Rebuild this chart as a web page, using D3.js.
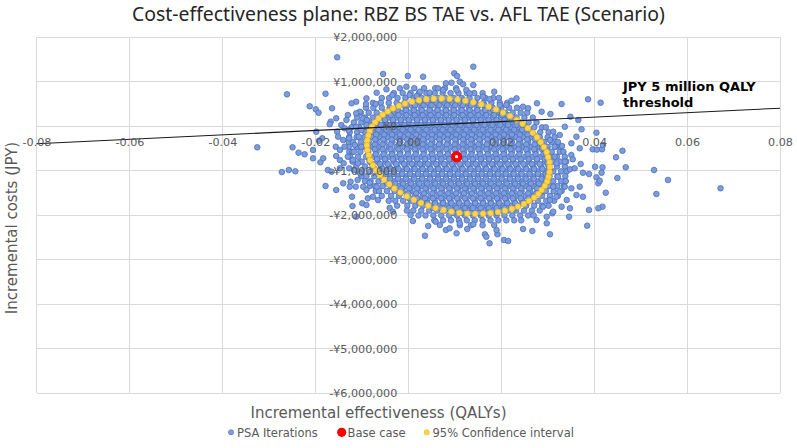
<!DOCTYPE html>
<html><head><meta charset="utf-8">
<script src="https://cdn.jsdelivr.net/npm/d3@7"></script>
<style>body{margin:0;background:#fff}svg{display:block}</style>
</head><body>
<svg id="chart" width="797" height="448"></svg>
<script>
// ---------- texts ----------
const chartTitle = "Cost-effectiveness plane: RBZ BS TAE vs. AFL TAE (Scenario)";
const xAxisTitle = "Incremental effectiveness (QALYs)";
const yAxisTitle = "Incremental costs (JPY)";
const legendLabels = ["PSA Iterations", "Base case", "95% Confidence interval"];
const thresholdLabel = ["JPY 5 million QALY", "threshold"];

// ---------- ticks ----------
const xTickValues = [-0.08, -0.06, -0.04, -0.02, 0, 0.02, 0.04, 0.06, 0.08];
const yTickValues = [2000000, 1000000, 0, -1000000, -2000000, -3000000, -4000000, -5000000, -6000000];

// ---------- threshold line (JPY 5,000,000 per QALY) ----------
const thresholdQaly = [-0.08, 0.08];
const thresholdCost = [-400000, 400000];

// ---------- base case ----------
const baseCaseQaly = [0.0104];
const baseCaseCost = [-690000];

// ---------- 95% confidence ellipse points ----------
const ciQaly = [0.0304,0.0301,0.0298,0.0292,0.0285,0.0277,0.0268,0.0257,0.0246,0.0233,0.0219,0.0204,0.0189,0.0173,0.0157,0.0140,0.0123,0.0106,0.0089,0.0072,0.0055,0.0039,0.0023,0.0008,-0.0007,-0.0020,-0.0033,-0.0044,-0.0055,-0.0064,-0.0071,-0.0078,-0.0083,-0.0086,-0.0088,-0.0089,
 -0.0088,-0.0085,-0.0082,-0.0076,-0.0069,-0.0061,-0.0052,-0.0041,-0.0030,-0.0017,-0.0003,0.0012,0.0027,0.0043,0.0059,0.0076,0.0093,0.0110,0.0127,0.0144,0.0161,0.0177,0.0193,0.0208,0.0223,0.0236,0.0249,0.0260,0.0271,0.0280,0.0287,0.0294,0.0299,0.0302,0.0304,0.0305];
const ciCost = [-811000,-698000,-586000,-473000,-362000,-254000,-149000,-48000,48000,139000,224000,301000,372000,434000,488000,532000,568000,594000,611000,618000,614000,601000,579000,546000,505000,454000,395000,328000,253000,171000,82000,-12000,-112000,-216000,-323000,-433000,
 -545000,-658000,-770000,-883000,-994000,-1102000,-1207000,-1308000,-1404000,-1495000,-1580000,-1657000,-1728000,-1790000,-1844000,-1888000,-1924000,-1950000,-1967000,-1974000,-1970000,-1957000,-1935000,-1902000,-1861000,-1810000,-1751000,-1684000,-1609000,-1527000,-1438000,-1344000,-1244000,-1140000,-1033000,-923000];

// ---------- PSA iterations: dense core, read row by row (outer layer) ----------
const psaCoreCost = [850000,740000,630000,520000,410000,300000,190000,80000,-30000,-140000,-250000,-360000,-470000,-580000,-690000,-800000,-910000,-1020000,-1130000,-1240000,-1350000,-1460000,-1570000,-1680000,-1790000,-1900000,-2010000,-2120000,-2230000];
const psaCoreQaly = [
 [0.0013,0.0034,0.0058,0.0079,0.0103],
 [-0.0031,-0.0012,0.0005,0.0023,0.0039,0.0057,0.0074,0.0091,0.0108,0.0126,0.0142,0.0160],
 [-0.0057,-0.0041,-0.0023,-0.0006,0.0012,0.0029,0.0046,0.0064,0.0080,0.0098,0.0115,0.0132,0.0149,0.0166,0.0183,0.0195],
 [-0.0076,-0.0059,-0.0042,-0.0025,-0.0008,0.0008,0.0026,0.0043,0.0060,0.0077,0.0094,0.0111,0.0128,0.0145,0.0162,0.0179,0.0197,0.0213],
 [-0.0091,-0.0075,-0.0057,-0.0040,-0.0023,-0.0006,0.0011,0.0028,0.0046,0.0063,0.0080,0.0097,0.0114,0.0131,0.0148,0.0165,0.0182,0.0200,0.0217,0.0234],
 [-0.0102,-0.0085,-0.0068,-0.0050,-0.0033,-0.0016,0.0002,0.0019,0.0036,0.0053,0.0071,0.0088,0.0105,0.0122,0.0139,0.0157,0.0174,0.0191,0.0208,0.0225,0.0242,0.0256],
 [-0.0110,-0.0093,-0.0076,-0.0059,-0.0042,-0.0025,-0.0007,0.0010,0.0027,0.0044,0.0061,0.0079,0.0096,0.0113,0.0130,0.0147,0.0164,0.0182,0.0199,0.0216,0.0233,0.0250,0.0268],
 [-0.0117,-0.0101,-0.0084,-0.0067,-0.0050,-0.0033,-0.0016,0.0001,0.0019,0.0036,0.0053,0.0070,0.0087,0.0104,0.0121,0.0139,0.0156,0.0173,0.0190,0.0207,0.0224,0.0242,0.0259,0.0276],
 [-0.0122,-0.0106,-0.0089,-0.0071,-0.0054,-0.0037,-0.0020,-0.0003,0.0014,0.0031,0.0048,0.0066,0.0083,0.0100,0.0117,0.0134,0.0151,0.0168,0.0185,0.0203,0.0220,0.0237,0.0254,0.0271,0.0288,0.0296],
 [-0.0126,-0.0110,-0.0093,-0.0076,-0.0058,-0.0041,-0.0024,-0.0007,0.0010,0.0027,0.0044,0.0062,0.0079,0.0096,0.0113,0.0130,0.0147,0.0164,0.0182,0.0199,0.0216,0.0233,0.0250,0.0267,0.0284,0.0302],
 [-0.0127,-0.0111,-0.0094,-0.0077,-0.0060,-0.0043,-0.0025,-0.0008,0.0009,0.0026,0.0043,0.0060,0.0077,0.0095,0.0112,0.0129,0.0146,0.0163,0.0180,0.0197,0.0214,0.0232,0.0249,0.0266,0.0283,0.0300,0.0315],
 [-0.0128,-0.0119,-0.0102,-0.0085,-0.0068,-0.0051,-0.0034,-0.0017,0.0001,0.0018,0.0035,0.0052,0.0069,0.0086,0.0103,0.0121,0.0138,0.0155,0.0172,0.0189,0.0206,0.0223,0.0241,0.0258,0.0275,0.0292,0.0309,0.0322],
 [-0.0128,-0.0111,-0.0094,-0.0077,-0.0060,-0.0042,-0.0025,-0.0008,0.0009,0.0026,0.0043,0.0060,0.0078,0.0095,0.0112,0.0129,0.0146,0.0163,0.0180,0.0198,0.0215,0.0232,0.0249,0.0266,0.0283,0.0300,0.0317,0.0328],
 [-0.0127,-0.0120,-0.0103,-0.0086,-0.0068,-0.0051,-0.0034,-0.0017,0.0000,0.0017,0.0034,0.0052,0.0069,0.0086,0.0103,0.0120,0.0137,0.0154,0.0172,0.0189,0.0206,0.0223,0.0240,0.0257,0.0274,0.0292,0.0309,0.0326,0.0334],
 [-0.0125,-0.0108,-0.0091,-0.0074,-0.0057,-0.0040,-0.0023,-0.0005,0.0012,0.0029,0.0046,0.0063,0.0080,0.0097,0.0114,0.0132,0.0149,0.0166,0.0183,0.0200,0.0217,0.0235,0.0252,0.0269,0.0286,0.0303,0.0320,0.0337],
 [-0.0120,-0.0100,-0.0083,-0.0066,-0.0049,-0.0031,-0.0014,0.0003,0.0020,0.0037,0.0054,0.0071,0.0089,0.0106,0.0123,0.0140,0.0157,0.0174,0.0191,0.0209,0.0226,0.0243,0.0260,0.0277,0.0294,0.0311,0.0328,0.0340],
 [-0.0112,-0.0093,-0.0076,-0.0058,-0.0041,-0.0024,-0.0006,0.0012,0.0029,0.0046,0.0063,0.0080,0.0097,0.0114,0.0132,0.0149,0.0166,0.0183,0.0200,0.0217,0.0234,0.0252,0.0269,0.0286,0.0303,0.0320,0.0337],
 [-0.0109,-0.0099,-0.0082,-0.0065,-0.0048,-0.0031,-0.0014,0.0003,0.0021,0.0038,0.0055,0.0072,0.0089,0.0106,0.0123,0.0141,0.0158,0.0175,0.0192,0.0209,0.0226,0.0243,0.0261,0.0278,0.0295,0.0312,0.0329,0.0341],
 [-0.0101,-0.0090,-0.0073,-0.0056,-0.0039,-0.0022,-0.0005,0.0012,0.0029,0.0047,0.0064,0.0081,0.0098,0.0115,0.0132,0.0149,0.0167,0.0184,0.0201,0.0218,0.0235,0.0252,0.0269,0.0287,0.0304,0.0321,0.0338],
 [-0.0093,-0.0081,-0.0064,-0.0047,-0.0030,-0.0013,0.0004,0.0021,0.0038,0.0055,0.0073,0.0090,0.0107,0.0124,0.0141,0.0158,0.0175,0.0192,0.0210,0.0227,0.0244,0.0261,0.0278,0.0295,0.0312,0.0329,0.0339],
 [-0.0083,-0.0072,-0.0055,-0.0038,-0.0021,-0.0004,0.0013,0.0030,0.0047,0.0064,0.0082,0.0099,0.0116,0.0133,0.0150,0.0167,0.0184,0.0201,0.0219,0.0236,0.0253,0.0270,0.0287,0.0304,0.0321,0.0335],
 [-0.0070,-0.0063,-0.0046,-0.0029,-0.0012,0.0005,0.0022,0.0039,0.0056,0.0073,0.0090,0.0108,0.0125,0.0142,0.0159,0.0176,0.0193,0.0210,0.0227,0.0244,0.0262,0.0279,0.0296,0.0313,0.0330],
 [-0.0057,-0.0037,-0.0020,-0.0003,0.0014,0.0031,0.0048,0.0065,0.0082,0.0099,0.0117,0.0134,0.0151,0.0168,0.0185,0.0202,0.0219,0.0236,0.0253,0.0270,0.0288,0.0305,0.0322],
 [-0.0042,-0.0028,-0.0011,0.0006,0.0023,0.0040,0.0057,0.0074,0.0091,0.0108,0.0125,0.0143,0.0160,0.0177,0.0194,0.0211,0.0228,0.0245,0.0262,0.0279,0.0297,0.0314],
 [-0.0024,-0.0002,0.0015,0.0032,0.0049,0.0066,0.0083,0.0100,0.0117,0.0134,0.0151,0.0169,0.0186,0.0203,0.0220,0.0237,0.0254,0.0271,0.0288,0.0302],
 [-0.0003,0.0011,0.0028,0.0045,0.0062,0.0079,0.0096,0.0113,0.0130,0.0147,0.0164,0.0181,0.0198,0.0215,0.0232,0.0249,0.0266,0.0283],
 [0.0022,0.0037,0.0054,0.0071,0.0088,0.0105,0.0122,0.0139,0.0156,0.0173,0.0190,0.0207,0.0224,0.0241,0.0258,0.0270],
 [0.0056,0.0075,0.0092,0.0109,0.0126,0.0143,0.0160,0.0177,0.0194,0.0211,0.0228,0.0243],
 [0.0111,0.0135,0.0160,0.0185]
];

// ---------- PSA iterations: inner layer (inside the 95% ellipse, where iterations pile up) ----------
const psaInnerCost = [575000,465000,355000,245000,135000,25000,-85000,-195000,-305000,-415000,-525000,-635000,-745000,-855000,-965000,-1075000,-1185000,-1295000,-1405000,-1515000,-1625000,-1735000,-1845000,-1955000];
const psaInnerQaly = [
 [0.0018,0.0036,0.0052,0.0070,0.0087,0.0104,0.0120],
 [-0.0019,-0.0002,0.0015,0.0033,0.0050,0.0067,0.0084,0.0101,0.0118,0.0135,0.0152,0.0164],
 [-0.0040,-0.0023,-0.0005,0.0012,0.0029,0.0046,0.0063,0.0081,0.0098,0.0115,0.0132,0.0149,0.0166,0.0183,0.0193],
 [-0.0055,-0.0038,-0.0021,-0.0004,0.0014,0.0031,0.0048,0.0065,0.0082,0.0099,0.0117,0.0134,0.0151,0.0168,0.0185,0.0202,0.0214],
 [-0.0067,-0.0050,-0.0033,-0.0016,0.0001,0.0019,0.0036,0.0053,0.0070,0.0087,0.0104,0.0122,0.0139,0.0156,0.0173,0.0190,0.0207,0.0224,0.0232],
 [-0.0076,-0.0059,-0.0042,-0.0025,-0.0008,0.0009,0.0027,0.0044,0.0061,0.0078,0.0095,0.0112,0.0130,0.0147,0.0164,0.0181,0.0198,0.0215,0.0233,0.0246],
 [-0.0081,-0.0064,-0.0047,-0.0029,-0.0012,0.0005,0.0022,0.0039,0.0057,0.0074,0.0091,0.0108,0.0125,0.0142,0.0160,0.0177,0.0194,0.0211,0.0228,0.0245,0.0259],
 [-0.0086,-0.0069,-0.0052,-0.0035,-0.0018,0.0000,0.0017,0.0034,0.0051,0.0068,0.0085,0.0103,0.0120,0.0137,0.0154,0.0171,0.0188,0.0206,0.0223,0.0240,0.0257,0.0270],
 [-0.0088,-0.0071,-0.0054,-0.0036,-0.0019,-0.0002,0.0015,0.0032,0.0050,0.0067,0.0084,0.0101,0.0118,0.0135,0.0153,0.0170,0.0187,0.0204,0.0221,0.0238,0.0256,0.0273],
 [-0.0089,-0.0072,-0.0055,-0.0038,-0.0020,-0.0003,0.0014,0.0031,0.0048,0.0066,0.0083,0.0100,0.0117,0.0134,0.0151,0.0169,0.0186,0.0203,0.0220,0.0237,0.0254,0.0272,0.0287],
 [-0.0089,-0.0072,-0.0055,-0.0038,-0.0021,-0.0003,0.0014,0.0031,0.0048,0.0065,0.0082,0.0100,0.0117,0.0134,0.0151,0.0168,0.0185,0.0203,0.0220,0.0237,0.0254,0.0271,0.0288,0.0293],
 [-0.0087,-0.0070,-0.0053,-0.0035,-0.0018,-0.0001,0.0016,0.0033,0.0051,0.0068,0.0085,0.0102,0.0119,0.0136,0.0154,0.0171,0.0188,0.0205,0.0222,0.0239,0.0257,0.0274,0.0291,0.0297],
 [-0.0084,-0.0067,-0.0050,-0.0033,-0.0015,0.0002,0.0019,0.0036,0.0053,0.0071,0.0088,0.0105,0.0122,0.0139,0.0156,0.0174,0.0191,0.0208,0.0225,0.0242,0.0259,0.0277,0.0294,0.0300],
 [-0.0078,-0.0061,-0.0044,-0.0026,-0.0009,0.0008,0.0025,0.0042,0.0060,0.0077,0.0094,0.0111,0.0128,0.0145,0.0163,0.0180,0.0197,0.0214,0.0231,0.0248,0.0266,0.0283,0.0300],
 [-0.0072,-0.0055,-0.0038,-0.0021,-0.0003,0.0014,0.0031,0.0048,0.0065,0.0083,0.0100,0.0117,0.0134,0.0151,0.0168,0.0186,0.0203,0.0220,0.0237,0.0254,0.0271,0.0289,0.0302],
 [-0.0065,-0.0048,-0.0031,-0.0013,0.0004,0.0021,0.0038,0.0055,0.0073,0.0090,0.0107,0.0124,0.0141,0.0158,0.0176,0.0193,0.0210,0.0227,0.0244,0.0261,0.0279,0.0296,0.0301],
 [-0.0056,-0.0039,-0.0022,-0.0005,0.0013,0.0030,0.0047,0.0064,0.0081,0.0098,0.0116,0.0133,0.0150,0.0167,0.0184,0.0201,0.0219,0.0236,0.0253,0.0270,0.0287,0.0298],
 [-0.0045,-0.0028,-0.0011,0.0006,0.0024,0.0041,0.0058,0.0075,0.0092,0.0109,0.0127,0.0144,0.0161,0.0178,0.0195,0.0212,0.0230,0.0247,0.0264,0.0281,0.0295],
 [-0.0032,-0.0015,0.0002,0.0019,0.0037,0.0054,0.0071,0.0088,0.0105,0.0122,0.0140,0.0157,0.0174,0.0191,0.0208,0.0225,0.0243,0.0260,0.0277,0.0288],
 [-0.0017,0.0000,0.0017,0.0034,0.0052,0.0069,0.0086,0.0103,0.0120,0.0137,0.0155,0.0172,0.0189,0.0206,0.0223,0.0240,0.0258,0.0275,0.0279],
 [0.0002,0.0019,0.0036,0.0053,0.0071,0.0088,0.0105,0.0122,0.0139,0.0156,0.0174,0.0191,0.0208,0.0225,0.0242,0.0259,0.0268],
 [0.0024,0.0041,0.0058,0.0075,0.0093,0.0110,0.0127,0.0144,0.0161,0.0178,0.0196,0.0213,0.0230,0.0247,0.0252],
 [0.0053,0.0070,0.0087,0.0104,0.0122,0.0139,0.0156,0.0173,0.0190,0.0207,0.0229],
 [0.0097,0.0115,0.0134,0.0152,0.0171,0.0191]
];

// ---------- PSA iterations: scattered points around the core [QALY, JPY] ----------
const psaScattered = [
 [-0.0153,1544000],[-0.0261,712000],[-0.0178,726000],[-0.0212,443000],[-0.0199,375000],[-0.0193,299000],[-0.0164,398000],[-0.0155,173000],[-0.0167,97000],[-0.0169,40000],
 [-0.0198,-128000],[-0.0325,-479000],[-0.0249,-479000],[-0.0236,-600000],[-0.0223,-636000],[-0.0205,-539000],[-0.0192,-330000],[-0.0185,-276000],[-0.0272,-1034000],[-0.0257,-989000],
 [-0.0243,-1018000],[-0.0189,-816000],[-0.0183,-726000],[-0.0178,-1348000],[-0.0173,-989000],[-0.0165,-1027000],[-0.0120,-1798000],[-0.0121,-1589000],[-0.0099,-1737000],[-0.0090,-1775000],
 [-0.0126,-1364000],[-0.0124,-1252000],[-0.0112,546000],[-0.0090,622000],[-0.0091,494000],[-0.0068,748000],[-0.0070,494000],[-0.0097,173000],[-0.0089,135000],[-0.0104,321000],
 [-0.0130,247000],[-0.0133,135000],[-0.0144,22000],[-0.0137,-52000],[-0.0128,-90000],[-0.0153,-128000],[-0.0151,-240000],[-0.0140,-315000],[-0.0127,-276000],[-0.0156,-465000],
 [-0.0147,-539000],[-0.0137,-465000],[-0.0155,-674000],[-0.0147,-764000],[-0.0139,-838000],[-0.0130,-690000],[-0.0117,-578000],[-0.0115,-427000],[-0.0106,-240000],[-0.0101,-465000],
 [-0.0108,-838000],[-0.0119,-764000],[-0.0127,-951000],[-0.0117,-989000],[-0.0103,-1063000],[-0.0109,-1213000],[-0.0113,-1364000],[-0.0097,-1364000],[-0.0090,-1438000],[-0.0083,-1274000],
 [-0.0068,-1364000],[-0.0087,-1625000],[-0.0076,-1589000],[-0.0065,-1663000],[-0.0112,-16000],[-0.0101,-90000],[-0.0090,22000],[-0.0122,510000],[-0.0112,285000],[-0.0205,-726000],
 [-0.0147,-951000],[-0.0140,-1288000],[-0.0155,-1438000],[-0.0112,-2038000],[-0.0040,-1840000],[-0.0033,-1926000],
 [0.0277,510000],[0.0330,494000],[0.0387,600000],[0.0414,524000],[0.0306,270000],[0.0349,209000],[0.0366,135000],[0.0287,321000],[0.0337,-16000],[0.0373,-74000],
 [0.0405,-151000],[0.0362,-240000],[0.0326,-202000],[0.0351,-389000],[0.0331,-449000],[0.0369,-501000],[0.0397,-524000],[0.0406,-530000],[0.0417,-524000],[0.0419,-427000],
 [0.0461,-555000],[0.0447,-703000],[0.0351,-652000],[0.0354,-748000],[0.0315,-690000],[0.0337,-802000],[0.0371,-854000],[0.0402,-915000],[0.0418,-928000],[0.0468,-928000],
 [0.0529,-989000],[0.0348,-973000],[0.0358,-951000],[0.0376,-1049000],[0.0389,-1079000],[0.0416,-1049000],[0.0405,-1153000],[0.0450,-1169000],[0.0559,-1213000],[0.0672,-1400000],
 [0.0534,-1528000],[0.0425,-1499000],[0.0409,-1288000],[0.0412,-1229000],[0.0337,-1364000],[0.0351,-1400000],[0.0369,-1364000],[0.0376,-1589000],[0.0362,-1551000],[0.0341,-1663000],
 [0.0319,-1589000],[0.0418,-1813000],[0.0409,-1849000],[0.0389,-1888000],[0.0348,-1849000],[0.0346,-2038000],[0.0310,-1962000],[0.0385,-2240000],[0.0298,-2187000],[0.0276,-2112000],
 [0.0312,-128000],[0.0305,-315000],[0.0315,-465000],[0.0298,-539000],[0.0319,-838000],[0.0305,-989000],[0.0322,-1139000],[0.0312,-1364000],[0.0326,-1476000],[0.0305,-1663000],
 [0.0290,-1813000],[0.0283,-1512000],[0.0330,-1813000],
 [0.0140,1333000],[-0.0054,1169000],[-0.0001,1124000],[0.0032,1108000],[0.0099,1184000],[0.0105,1124000],[0.0111,996000],[0.0118,937000],[0.0081,960000],[0.0093,973000],
 [0.0140,921000],[0.0185,771000],[-0.0047,825000],[-0.0018,847000],[-0.0004,883000],[-0.0034,697000],[0.0025,771000],[0.0046,748000],[0.0064,847000],[0.0222,569000],
 [0.0233,622000],[0.0003,697000],[0.0018,674000],[0.0075,809000],[0.0104,809000],[0.0125,809000],[0.0132,735000],[0.0161,658000],[0.0175,600000],[0.0197,472000],
 [0.0211,472000],[0.0247,434000],[0.0258,398000],
 [0.0036,-2465000],[0.0043,-2247000],[0.0081,-2337000],[0.0089,-2299000],[0.0104,-2411000],[0.0127,-2315000],[0.0165,-2434000],[0.0168,-2488000],[0.0175,-2636000],[0.0192,-2434000],
 [0.0190,-2337000],[0.0206,-2562000],[0.0215,-2584000],[0.0247,-2315000],[0.0267,-2360000],[0.0305,-2434000],[0.0005,-2000000],[0.0010,-2135000],[0.0059,-2151000],[0.0068,-2225000],
 [0.0111,-2187000],[0.0140,-2209000],[0.0312,-1926000],[0.0298,-2038000]
];

// ---------- build ----------
const psaPoints = [];
psaCoreCost.forEach((c, i) => psaCoreQaly[i].forEach(q => psaPoints.push({q, c})));
psaInnerCost.forEach((c, i) => psaInnerQaly[i].forEach(q => psaPoints.push({q, c})));
psaScattered.forEach(([q, c]) => psaPoints.push({q, c}));
const ciPoints = ciQaly.map((q, i) => ({q, c: ciCost[i]}));
const basePoints = baseCaseQaly.map((q, i) => ({q, c: baseCaseCost[i]}));

const svg = d3.select("#chart");
const W = 797, H = 448;
const plot = {left: 36.5, right: 780, top: 37, bottom: 393};
const x = d3.scaleLinear().domain([-0.08, 0.08]).range([plot.left, plot.right]);
const y = d3.scaleLinear().domain([-6000000, 2000000]).range([plot.bottom, plot.top]);

const loc = d3.formatLocale({decimal: ".", thousands: ",", grouping: [3], currency: ["¥", ""], minus: "-"});
const fmtX = loc.format(".2f");
const fmtY = loc.format("$,.0f");

const FONT = "'DejaVu Sans', Verdana, sans-serif";
const gridColor = "#d9d9d9";
const textColor = "#595959";
const psaFill = "#7c9cdb", psaStroke = "#4a6fbf";
const ciFill = "#ffd54f", ciStroke = "#f0b400";

// gridlines
const grid = svg.append("g").attr("shape-rendering", "crispEdges");
grid.selectAll("line.v").data(xTickValues).join("line")
  .attr("x1", d => x(d)).attr("x2", d => x(d)).attr("y1", plot.top).attr("y2", plot.bottom)
  .attr("stroke", gridColor).attr("stroke-width", 1);
grid.selectAll("line.h").data(yTickValues).join("line")
  .attr("x1", plot.left).attr("x2", plot.right).attr("y1", d => y(d)).attr("y2", d => y(d))
  .attr("stroke", gridColor).attr("stroke-width", 1);

// PSA iterations
svg.append("g").selectAll("circle").data(psaPoints).join("circle")
  .attr("cx", d => x(d.q)).attr("cy", d => y(d.c)).attr("r", 2.8)
  .attr("fill", psaFill).attr("stroke", psaStroke).attr("stroke-width", 0.8);

// CI ellipse
svg.append("g").selectAll("circle").data(ciPoints).join("circle")
  .attr("cx", d => x(d.q)).attr("cy", d => y(d.c)).attr("r", 2.9)
  .attr("fill", ciFill).attr("stroke", ciStroke).attr("stroke-width", 0.6);

// threshold line
svg.append("line")
  .attr("x1", x(thresholdQaly[0])).attr("y1", y(thresholdCost[0]))
  .attr("x2", x(thresholdQaly[1])).attr("y2", y(thresholdCost[1]))
  .attr("stroke", "#1a1a1a").attr("stroke-width", 1.1);

// base case
const bg = svg.append("g");
bg.selectAll("circle.b").data(basePoints).join("circle")
  .attr("cx", d => x(d.q)).attr("cy", d => y(d.c)).attr("r", 5.6).attr("fill", "#ff0000");
bg.selectAll("circle.w").data(basePoints).join("circle")
  .attr("cx", d => x(d.q)).attr("cy", d => y(d.c)).attr("r", 1.6).attr("fill", "#ffffff");

// axes through origin
const xAxis = svg.append("g").attr("transform", `translate(0,${y(0)})`)
  .call(d3.axisBottom(x).tickValues(xTickValues).tickFormat(fmtX).tickSize(0).tickPadding(12));
const yAxis = svg.append("g").attr("transform", `translate(${x(0)},0)`)
  .call(d3.axisLeft(y).tickValues(yTickValues).tickFormat(fmtY).tickSize(0).tickPadding(11));
[xAxis, yAxis].forEach(a => {
  a.select(".domain").remove();
  a.selectAll("text").attr("fill", textColor).style("font-family", FONT).style("font-size", "11.2px");
});

// threshold label
svg.append("text").attr("x", 623).attr("y", 91)
  .style("font-family", FONT).style("font-size", "13px").style("font-weight", "bold").attr("fill", "#000")
  .selectAll("tspan").data(thresholdLabel).join("tspan")
  .attr("x", 623).attr("dy", (d, i) => i ? 15.5 : 0).text(d => d);

// title
svg.append("text").attr("x", W / 2).attr("y", 21).attr("text-anchor", "middle")
  .style("font-family", "'Noto Sans', 'Open Sans', sans-serif").style("font-size", "19.4px").attr("fill", "#262626")
  .text(chartTitle);

// axis titles
svg.append("text").attr("x", 378.5).attr("y", 418).attr("text-anchor", "middle")
  .style("font-family", FONT).style("font-size", "15px").attr("fill", textColor).text(xAxisTitle);
svg.append("text").attr("transform", "translate(16.5,228) rotate(-90)").attr("text-anchor", "middle")
  .style("font-family", FONT).style("font-size", "15px").attr("fill", textColor).text(yAxisTitle);

// legend
const legendItems = [
  {label: legendLabels[0], cx: 231, tx: 237, r: 2.6, fill: psaFill, stroke: psaStroke},
  {label: legendLabels[1], cx: 341.7, tx: 347.5, r: 4.6, fill: "#ff0000", stroke: "none"},
  {label: legendLabels[2], cx: 426.7, tx: 432.5, r: 2.6, fill: ciFill, stroke: ciStroke}
];
const lg = svg.append("g");
legendItems.forEach(it => {
  lg.append("circle").attr("cx", it.cx).attr("cy", 432.3).attr("r", it.r)
    .attr("fill", it.fill).attr("stroke", it.stroke).attr("stroke-width", 0.6);
  lg.append("text").attr("x", it.tx).attr("y", 436.5)
    .style("font-family", FONT).style("font-size", "11.5px").attr("fill", textColor).text(it.label);
});
</script>
</body></html>
